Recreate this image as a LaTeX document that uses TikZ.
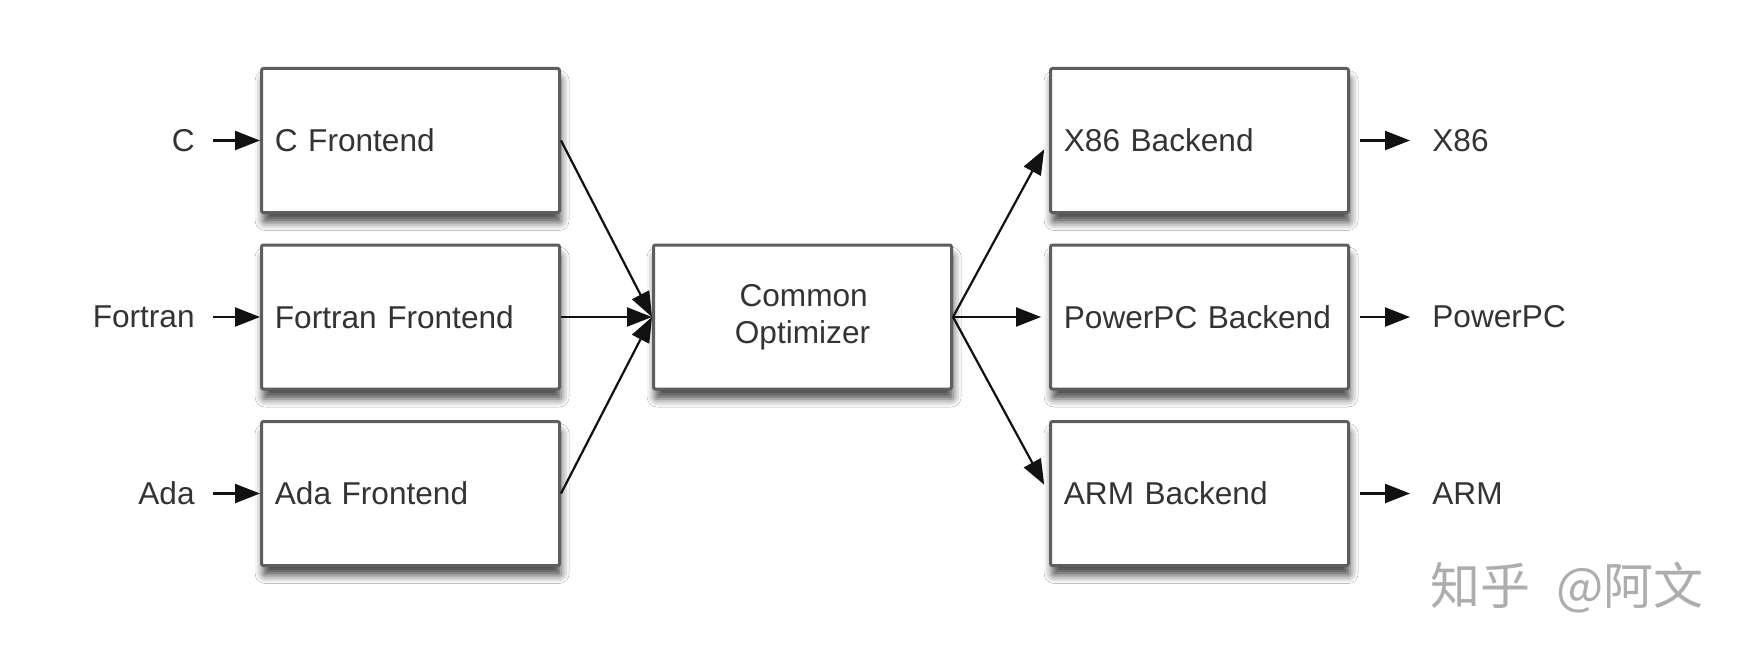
\documentclass[tikz,border=0pt]{standalone}
\usepackage{fontspec}
\setmainfont{Liberation Sans}
\newfontfamily\cjk{Noto Sans CJK SC}
\usetikzlibrary{arrows.meta,shadows.blur}
\definecolor{txt}{HTML}{333333}
\definecolor{edge}{HTML}{5E5E5E}
\definecolor{arrc}{HTML}{111111}
\begin{document}
\begin{tikzpicture}[x=0.5pt,y=-0.5pt,
  lblfont/.style={font=\fontsize{15.8}{18.5}\selectfont},
  box/.style={draw=edge, line width=1.5pt, fill=white, rounded corners=1pt,
    minimum width=149pt, minimum height=72pt, text width=138pt, align=left,
    inner xsep=5.5pt, text=txt, lblfont,
    execute at begin node={\hspace*{1.2pt}},
    blur shadow={shadow xshift=0.8pt, shadow yshift=-5pt, shadow blur radius=4pt, shadow opacity=70}},
  obox/.style={box, align=center, execute at begin node={}},
  lbl/.style={text=txt, lblfont, inner ysep=0pt},
  arr/.style={draw=arrc, line width=1.1pt, -{Triangle[length=12.5pt,width=9.5pt]}}
]
\fill[white] (0,0) rectangle (1750,658);
\useasboundingbox (0,0) rectangle (1750,658);

% boxes
\node[box] (cf) at (410.5,140.5) {C Frontend};
\node[box] (ff) at (410.5,317) {Fortran Frontend};
\node[box] (af) at (410.5,493.5) {Ada Frontend};
\node[obox] (opt) at (802.5,317) {Common\\Optimizer};
\node[box] (xb) at (1199.5,140.5) {X86 Backend};
\node[box] (pb) at (1199.5,317) {PowerPC Backend};
\node[box] (ab) at (1199.5,493.5) {ARM Backend};

% input labels
\node[lbl, anchor=east, inner xsep=9pt] (cin) at (213,140.5) {C};
\node[lbl, anchor=east, inner xsep=9pt] (fin) at (213,317) {Fortran};
\node[lbl, anchor=east, inner xsep=9pt] (ain) at (213,493.5) {Ada};

% output labels
\node[lbl, anchor=west, inner xsep=11pt] (xo) at (1410,140.5) {X86};
\node[lbl, anchor=west, inner xsep=11pt] (po) at (1410,317) {PowerPC};
\node[lbl, anchor=west, inner xsep=11pt] (ao) at (1410,493.5) {ARM};

% input stubs
\draw[arr] (cin) -- (cf);
\draw[arr] (fin) -- (ff);
\draw[arr] (ain) -- (af);

% converge
\draw[arr] (cf.east) -- (opt.west);
\draw[arr] (ff.east) -- (opt.west);
\draw[arr] (af.east) -- (opt.west);

% diverge
\draw[arr, shorten >=5pt] (opt.east) -- (xb.west);
\draw[arr, shorten >=4pt] (opt.east) -- (pb.west);
\draw[arr, shorten >=5pt] (opt.east) -- (ab.west);

% output stubs
\draw[arr, shorten <=5pt] (xb) -- (xo);
\draw[arr, shorten <=5pt] (pb) -- (po);
\draw[arr, shorten <=5pt] (ab) -- (ao);

% watermark
\node[text=black!32, font=\cjk\fontsize{25}{25}\selectfont, anchor=west, inner sep=0pt] (wm) at (1430,588) {知乎\hspace{0.3em} @阿文};
\end{tikzpicture}
\end{document}
